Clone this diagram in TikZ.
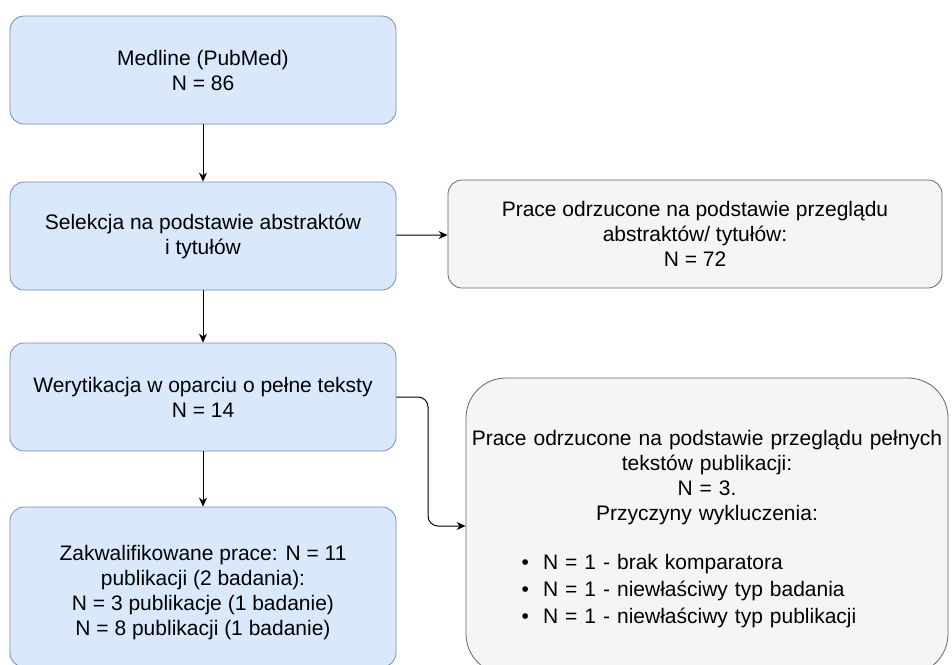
\documentclass[tikz,border=0pt]{standalone}
\usepackage{fontspec}
\setmainfont{Liberation Sans}
\usepackage{enumitem}
\usetikzlibrary{arrows.meta}
\definecolor{blueFill}{HTML}{DAE8FC}
\definecolor{blueLine}{HTML}{6C8EBF}
\definecolor{greyFill}{HTML}{F5F5F5}
\definecolor{greyLine}{HTML}{666666}
\tikzset{
  stage/.style={draw=blueLine,fill=blueFill,rounded corners=14pt,line width=0.8pt,
    minimum width=386pt,minimum height=108pt,align=center,inner sep=0pt},
  reject/.style={draw=greyLine,fill=greyFill,rounded corners=14pt,line width=0.8pt,
    minimum width=494pt,minimum height=108pt,align=center,inner sep=0pt},
  flow/.style={-{Stealth[length=9pt,width=8pt]},line width=1pt}
}
\begin{document}
\begin{tikzpicture}[x=1pt,y=-1pt,font=\fontsize{21}{25}\selectfont]
\useasboundingbox (0,0) rectangle (952,664);
\node[stage](medline) at (203,70){Medline (PubMed)\\N = 86};
\node[stage](selekcja) at (203,236){Selekcja na podstawie abstraktów\\i tytułów};
\node[reject](odrz1) at (695,234){Prace odrzucone na podstawie przeglądu\\abstraktów/ tytułów:\\N = 72};
\node[stage](weryf) at (203,397){Werytikacja w oparciu o pełne teksty\\N = 14};
\node[stage,minimum height=160pt](zakw) at (203,587){\rule{0pt}{26pt}Zakwalifikowane prace: N = 11\\publikacji (2 badania):\\N = 3 publikacje (1 badanie)\\N = 8 publikacji (1 badanie)};
\node[reject,rounded corners=40pt,minimum width=482pt,minimum height=296pt,text width=482pt](odrz2) at (707,526){%
\rule{0pt}{22pt}Prace odrzucone na podstawie przeglądu pełnych\\tekstów publikacji:\\N = 3.\\Przyczyny wykluczenia:\par
\begin{itemize}[leftmargin=77pt,labelsep=14pt,itemsep=2pt,parsep=0pt,topsep=22pt,label=\textbullet]\raggedright
\item N = 1 - brak komparatora
\item N = 1 - niewłaściwy typ badania
\item N = 1 - niewłaściwy typ publikacji
\end{itemize}};
\coordinate (bend) at (428,397);
\draw[flow](medline)--(selekcja);
\draw[flow](selekcja)--(odrz1);
\draw[flow](selekcja)--(weryf);
\draw[flow](weryf)--(zakw);
\draw[flow,rounded corners=10pt](weryf.east)--(bend)|-(odrz2.west);
\end{tikzpicture}
\end{document}
